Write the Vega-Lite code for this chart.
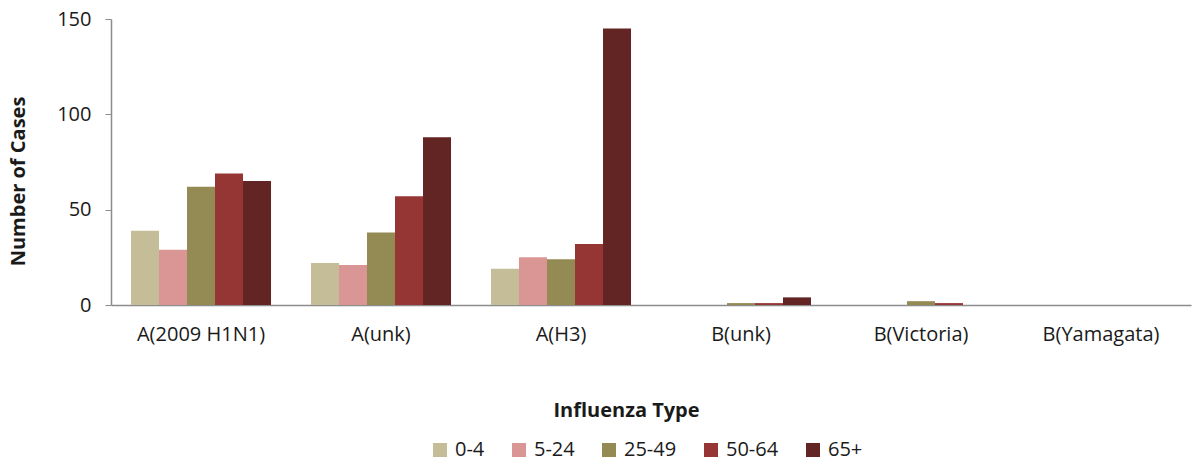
{
  "$schema": "https://vega.github.io/schema/vega-lite/v6.json",
  "width": 1080,
  "height": 286,
  "autosize": {"type": "none"},
  "padding": {"left": 111, "top": 19, "right": 2, "bottom": 159},
  "background": "white",
  "config": {
    "view": {"stroke": null},
    "font": "Open Sans",
    "axis": {"labelFont": "Open Sans", "titleFont": "Open Sans", "labelColor": "#1a1a1a", "titleColor": "#1a1a1a"}
  },
  "data": {
    "values": [
      {"type": "A(2009 H1N1)", "age": "0-4", "cases": 39},
      {"type": "A(2009 H1N1)", "age": "5-24", "cases": 29},
      {"type": "A(2009 H1N1)", "age": "25-49", "cases": 62},
      {"type": "A(2009 H1N1)", "age": "50-64", "cases": 69},
      {"type": "A(2009 H1N1)", "age": "65+", "cases": 65},
      {"type": "A(unk)", "age": "0-4", "cases": 22},
      {"type": "A(unk)", "age": "5-24", "cases": 21},
      {"type": "A(unk)", "age": "25-49", "cases": 38},
      {"type": "A(unk)", "age": "50-64", "cases": 57},
      {"type": "A(unk)", "age": "65+", "cases": 88},
      {"type": "A(H3)", "age": "0-4", "cases": 19},
      {"type": "A(H3)", "age": "5-24", "cases": 25},
      {"type": "A(H3)", "age": "25-49", "cases": 24},
      {"type": "A(H3)", "age": "50-64", "cases": 32},
      {"type": "A(H3)", "age": "65+", "cases": 145},
      {"type": "B(unk)", "age": "0-4", "cases": 0},
      {"type": "B(unk)", "age": "5-24", "cases": 0},
      {"type": "B(unk)", "age": "25-49", "cases": 1},
      {"type": "B(unk)", "age": "50-64", "cases": 1},
      {"type": "B(unk)", "age": "65+", "cases": 4},
      {"type": "B(Victoria)", "age": "0-4", "cases": 0},
      {"type": "B(Victoria)", "age": "5-24", "cases": 0},
      {"type": "B(Victoria)", "age": "25-49", "cases": 2},
      {"type": "B(Victoria)", "age": "50-64", "cases": 1},
      {"type": "B(Victoria)", "age": "65+", "cases": 0},
      {"type": "B(Yamagata)", "age": "0-4", "cases": 0},
      {"type": "B(Yamagata)", "age": "5-24", "cases": 0},
      {"type": "B(Yamagata)", "age": "25-49", "cases": 0},
      {"type": "B(Yamagata)", "age": "50-64", "cases": 0},
      {"type": "B(Yamagata)", "age": "65+", "cases": 0}
    ]
  },
  "mark": {"type": "bar"},
  "encoding": {
    "x": {
      "field": "type", "type": "nominal", "sort": null,
      "scale": {"paddingInner": 0.222, "paddingOuter": 0.111},
      "axis": {
        "title": "Influenza Type", "titleFontSize": 20, "titleFontWeight": "bold",
        "titleX": 515, "titleY": 105, "titleBaseline": "middle",
        "labelAngle": 0, "labelFontSize": 20, "labelPadding": 19,
        "ticks": false, "domainColor": "#8c8c8c", "domainWidth": 1.5, "grid": false
      }
    },
    "xOffset": {"field": "age", "type": "nominal", "sort": ["0-4", "5-24", "25-49", "50-64", "65+"], "scale": {"paddingInner": 0, "paddingOuter": 0}},
    "y": {
      "field": "cases", "type": "quantitative",
      "scale": {"domain": [0, 150]},
      "axis": {
        "title": "Number of Cases", "titleFontSize": 20, "titleFontWeight": "bold",
        "titleX": -93, "titleY": 162, "titleAlign": "center", "titleBaseline": "middle", "titleAngle": -90,
        "values": [0, 50, 100, 150], "labelFontSize": 20, "labelPadding": 14,
        "tickSize": 6, "tickColor": "#8c8c8c", "domainColor": "#8c8c8c", "domainWidth": 1.5, "grid": false
      }
    },
    "color": {
      "field": "age", "type": "nominal",
      "sort": ["0-4", "5-24", "25-49", "50-64", "65+"],
      "scale": {"domain": ["0-4", "5-24", "25-49", "50-64", "65+"], "range": ["#C4BD97", "#DA9694", "#948A54", "#963634", "#632523"]},
      "legend": {
        "title": null, "orient": "none", "direction": "horizontal",
        "legendX": 319, "legendY": 421,
        "symbolType": "square", "symbolSize": 196, "symbolStrokeWidth": 0,
        "labelFontSize": 20, "labelFont": "Open Sans", "labelColor": "#1a1a1a",
        "columnPadding": 24, "labelOffset": 5
      }
    }
  }
}
